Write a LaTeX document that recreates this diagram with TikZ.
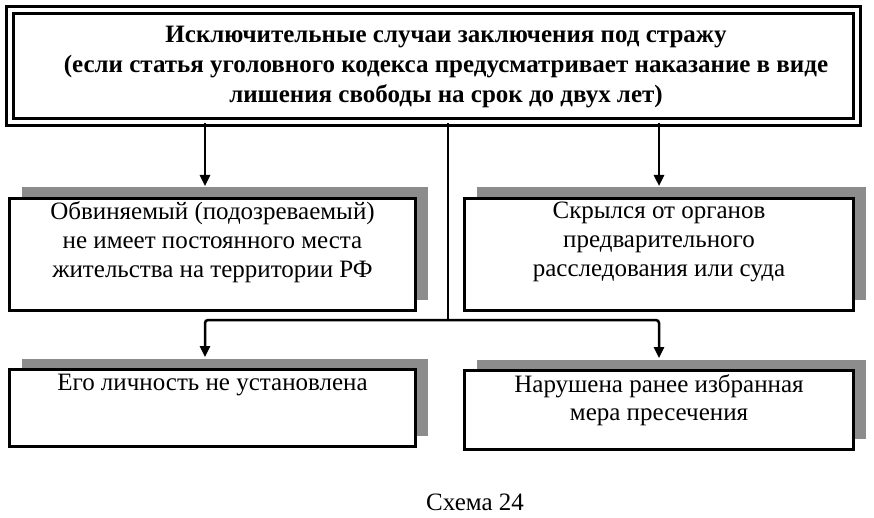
\documentclass[tikz,border=0pt]{standalone}
\usepackage{fontspec}
\setmainfont{Liberation Serif}
\usetikzlibrary{arrows.meta,shadows}
\definecolor{shadowgray}{HTML}{8C8C8C}

\begin{document}
\begin{tikzpicture}[x=1pt,y=-1pt,
  box/.style={draw=black,line width=3pt,fill=white,inner sep=0pt,
    drop shadow={shadow xshift=12pt,shadow yshift=11pt,fill=shadowgray,opacity=1}},
  txt/.style={align=center,inner sep=0pt,font=\fontsize{25}{29}\selectfont},
  arr/.style={line width=2.5pt,-{Triangle[length=11pt,width=10pt]},shorten >=11pt}]
\useasboundingbox (0,0) rectangle (874,518);
\node[draw=black,line width=3pt,double,double distance=4pt,inner sep=0pt,
  minimum width=847pt,minimum height=112pt] (top) at (433.5,66) {};
\node[txt,font=\bfseries\fontsize{25}{30}\selectfont] (top text) at (446,67)
  {Исключительные случаи заключения под стражу\\
   (если статья уголовного кодекса предусматривает наказание в виде\\
   лишения свободы на срок до двух лет)};
\node[box,minimum width=406pt,minimum height=112pt] (mid left) at (212.5,254.5) {};
\node[box,minimum width=389pt,minimum height=112pt] (mid right) at (659,254.5) {};
\node[box,minimum width=406pt,minimum height=77pt] (bot left) at (212.5,408) {};
\node[box,minimum width=389pt,minimum height=79pt] (bot right) at (659,410) {};
\node[txt] (mid left text) at (212.5,242)
  {Обвиняемый (подозреваемый)\\не имеет постоянного места\\жительства на территории РФ};
\node[txt] (mid right text) at (659,242)
  {Скрылся от органов\\предварительного\\расследования или суда};
\node[txt] (bot left text) at (212.5,385) {Его личность не установлена};
\node[txt,font=\fontsize{25}{28}\selectfont] (bot right text) at (659,400)
  {Нарушена ранее избранная\\мера пресечения};
\node[txt] (caption) at (475,502) {Схема 24};
\coordinate (left col) at (205,0);
\coordinate (right col) at (659,0);
\coordinate (fork) at (448,320);
\draw[arr] (top.south -| left col) -- (mid left.north -| left col);
\draw[arr] (top.south -| right col) -- (mid right.north -| right col);
\draw[line width=2.5pt] (top.south -| fork) -- (fork);
\draw[arr,rounded corners=3pt] (fork) -| (bot left.north -| left col);
\draw[arr,rounded corners=3pt] (fork) -| (bot right.north -| right col);
\end{tikzpicture}
\end{document}
